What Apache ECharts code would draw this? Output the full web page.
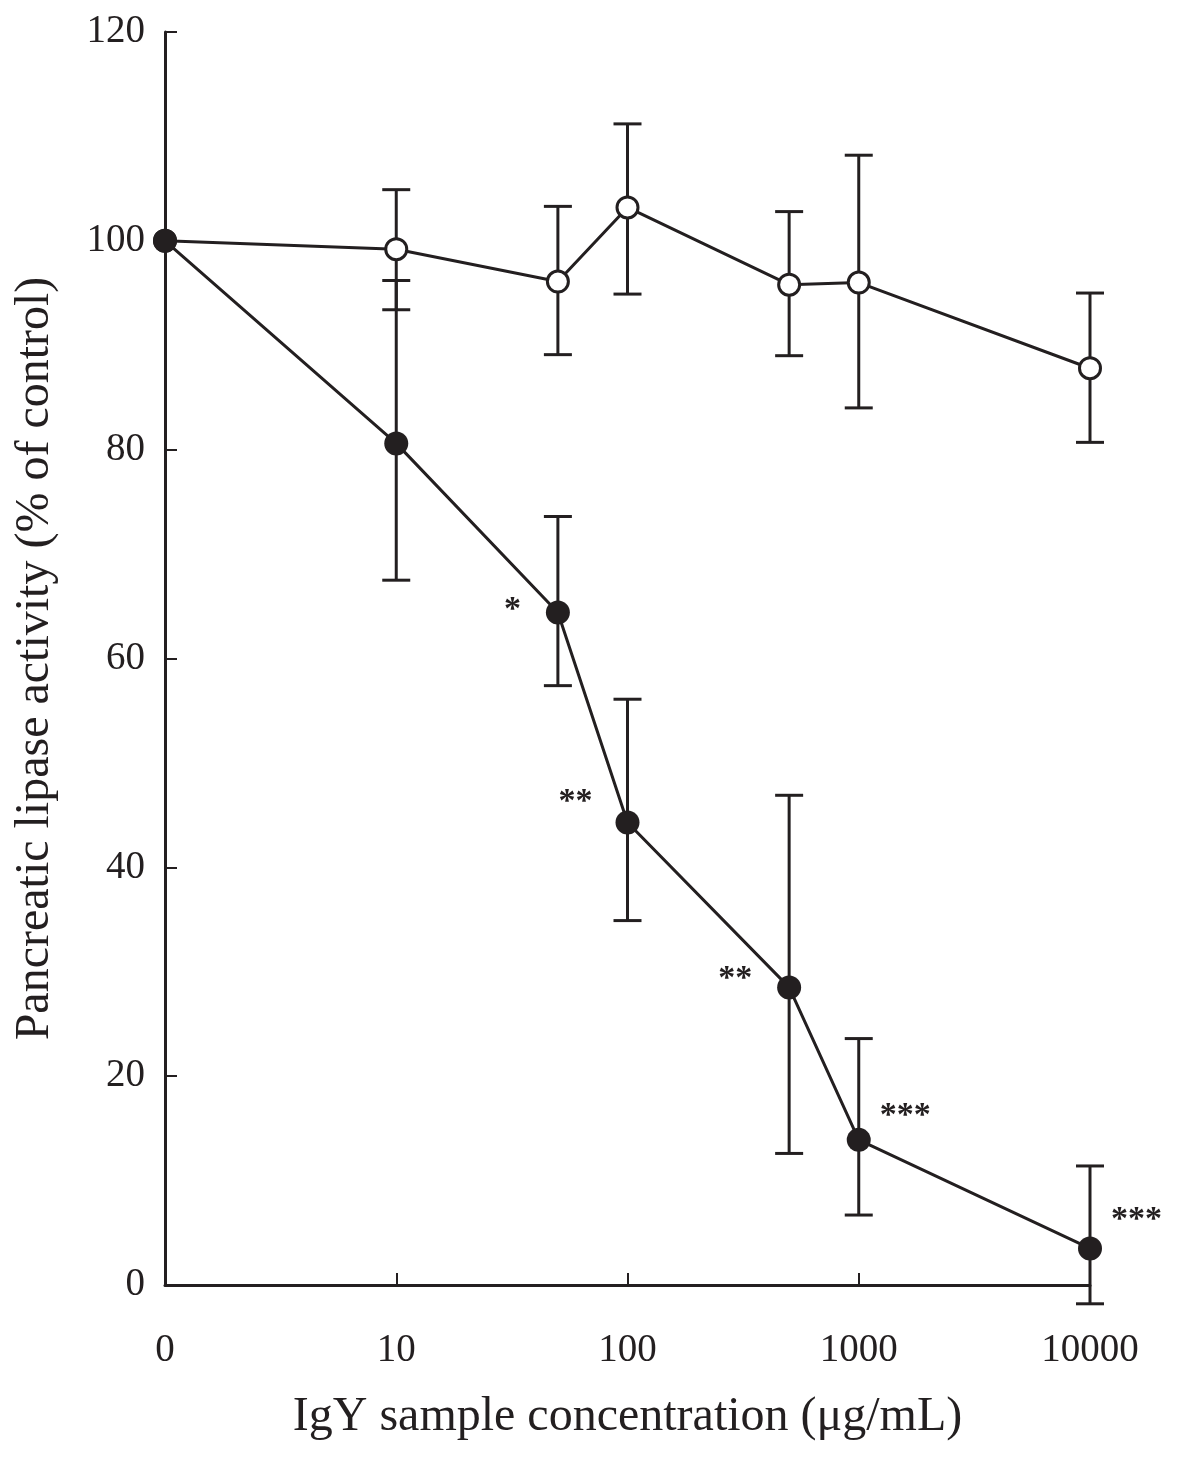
<!DOCTYPE html>
<html>
<head>
<meta charset="utf-8">
<script src="https://cdn.jsdelivr.net/npm/echarts@6/dist/echarts.min.js"></script>
<style>
html,body{margin:0;padding:0;background:#fff;}
#chart{width:1200px;height:1457px;}
</style>
</head>
<body>
<div id="chart"></div>
<script>
// Concentrations (µg/mL); 0 is drawn at the first decade position
const concentrations = [0, 10, 50, 100, 500, 1000, 10000];
const xTickLabels = ['0', '10', '100', '1000', '10000'];
const yTicks = [0, 20, 40, 60, 80, 100, 120];

// Open circles (control IgY)
const openMean = [100, 99.2, 96.1, 103.2, 95.8, 96.0, 87.8];
const openHigh = [100, 104.9, 103.3, 111.2, 102.8, 108.2, 95.0];
const openLow  = [100, 93.4, 89.1, 94.9, 89.0, 84.0, 80.7];

// Filled circles (anti-lipase IgY)
const filledMean = [100, 80.6, 64.4, 44.3, 28.5, 13.9, 3.5];
const filledHigh = [100, 96.2, 73.6, 56.1, 46.9, 23.6, 11.4];
const filledLow  = [100, 67.5, 57.4, 34.9, 12.6, 6.7, -1.8];
const significance = ['', '', '*', '**', '**', '***', '***'];

const xPos = concentrations.map(c => c === 0 ? 0 : Math.log10(c));

const FONT = '"Liberation Serif", "Times New Roman", serif';
const INK = '#231f20';

function errData(low, high) {
  return xPos.map((x, i) => [x, low[i], high[i]]).filter((d, i) => high[i] !== low[i]);
}
function errSeries(low, high) {
  return {
    type: 'custom',
    data: errData(low, high),
    clip: false,
    silent: true,
    z: 1,
    renderItem: function (params, api) {
      const x = api.value(0);
      const lo = api.coord([x, api.value(1)]);
      const hi = api.coord([x, api.value(2)]);
      const hw = 14;
      const style = { stroke: INK, lineWidth: 3, fill: null };
      return {
        type: 'group',
        children: [
          { type: 'line', shape: { x1: lo[0], y1: lo[1], x2: hi[0], y2: hi[1] }, style: style },
          { type: 'line', shape: { x1: hi[0] - hw, y1: hi[1], x2: hi[0] + hw, y2: hi[1] }, style: style },
          { type: 'line', shape: { x1: lo[0] - hw, y1: lo[1], x2: lo[0] + hw, y2: lo[1] }, style: style }
        ]
      };
    }
  };
}

const sigPlacement = [null, null,
  { position: 'left', offset: [-20, -2] },
  { position: 'left', offset: [-18, -20] },
  { position: 'left', offset: [-20, -8] },
  { position: 'right', offset: [4, -24] },
  { position: 'right', offset: [4, -28] }];

const filledData = xPos.map((x, i) => {
  const item = { value: [x, filledMean[i]] };
  if (significance[i]) {
    item.label = Object.assign({
      show: true,
      formatter: significance[i],
      fontFamily: FONT,
      fontSize: 34,
      fontWeight: 'bold',
      color: INK
    }, sigPlacement[i]);
  }
  return item;
});

const chart = echarts.init(document.getElementById('chart'), null, { renderer: 'canvas' });
chart.setOption({
  animation: false,
  backgroundColor: '#ffffff',
  grid: { left: 165, right: 110, top: 32, bottom: 172, containLabel: false },
  xAxis: {
    type: 'value',
    min: 0, max: 4, interval: 1,
    name: 'IgY sample concentration (\u03bcg/mL)',
    nameLocation: 'middle',
    nameGap: 108,
    nameTextStyle: { fontFamily: FONT, fontSize: 48, color: INK },
    axisLine: { show: true, onZero: false, lineStyle: { color: INK, width: 3 } },
    axisTick: { show: true, inside: true, length: 12, lineStyle: { color: INK, width: 2 },
      customValues: [1, 2, 3] },
    axisLabel: { fontFamily: FONT, fontSize: 39, color: INK, margin: 46,
      formatter: v => xTickLabels[Math.round(v)] },
    splitLine: { show: false }
  },
  yAxis: {
    type: 'value',
    min: 0, max: 120, interval: 20,
    name: 'Pancreatic lipase activity (% of control)',
    nameLocation: 'middle',
    nameGap: 106,
    nameTextStyle: { fontFamily: FONT, fontSize: 48, color: INK },
    axisLine: { show: true, lineStyle: { color: INK, width: 3 } },
    axisTick: { show: true, inside: true, length: 12, lineStyle: { color: INK, width: 2 },
      customValues: yTicks.slice(1) },
    axisLabel: { fontFamily: FONT, fontSize: 39, color: INK, margin: 20,
      customValues: yTicks },
    splitLine: { show: false }
  },
  series: [
    errSeries(openLow, openHigh),
    errSeries(filledLow, filledHigh),
    {
      type: 'line',
      data: xPos.map((x, i) => [x, openMean[i]]),
      symbol: 'circle',
      symbolSize: 21,
      showAllSymbol: true,
      z: 3,
      lineStyle: { color: INK, width: 3 },
      itemStyle: { color: '#ffffff', borderColor: INK, borderWidth: 3 }
    },
    {
      type: 'line',
      data: filledData,
      symbol: 'circle',
      symbolSize: 24,
      showAllSymbol: true,
      z: 4,
      lineStyle: { color: INK, width: 3 },
      itemStyle: { color: INK, borderColor: INK, borderWidth: 0 }
    }
  ]
});
</script>
</body>
</html>
